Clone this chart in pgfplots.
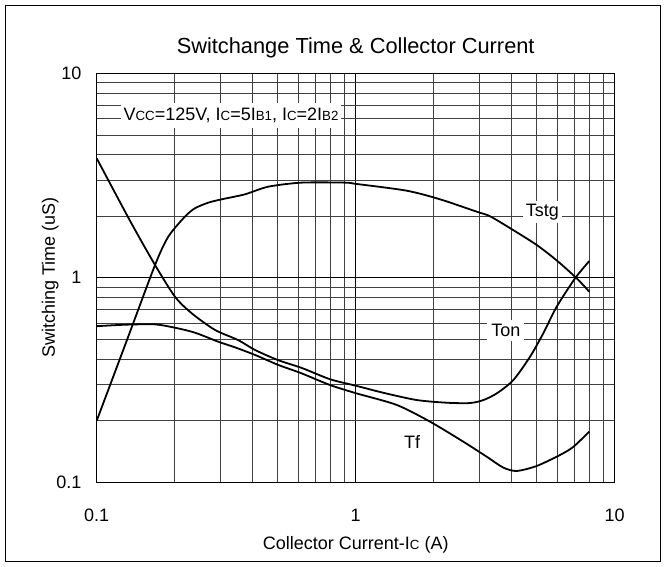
\documentclass[border=0pt]{standalone}
\usepackage{fontspec}
\setmainfont{Liberation Sans}
\usepackage{pgfplots}
\pgfplotsset{compat=1.18}
\newcommand\sm[1]{{\fontsize{13.3}{14}\selectfont #1}}
\begin{document}
\begin{tikzpicture}[x=1pt,y=1pt]
\useasboundingbox (0,0) rectangle (666,567);
\draw[line width=1.5pt] (5.5,5.5) rectangle (660.5,561.5);
\begin{axis}[
  at={(96.7pt,84.7pt)}, anchor=south west,
  scale only axis, width=518pt, height=409pt,
  xmode=log, ymode=log,
  xmin=0.1, xmax=10, ymin=0.1, ymax=10,
  xtick={0.1,1,10}, xticklabels={0.1,1,10},
  ytick={0.1,1,10}, yticklabels={0.1,1,10},
  grid=both,
  major grid style={black, line width=0.7pt},
  minor grid style={black!75, line width=0.7pt},
  major tick length=0pt, minor tick length=0pt,
  axis line style={line width=1pt},
  tick label style={font=\fontsize{18}{18}\selectfont},
  xticklabel style={anchor=base, yshift=-39.6pt},
  yticklabel style={anchor=east, inner sep=0pt, xshift=-15pt},
  title={Switchange Time \& Collector Current},
  title style={at={(axis description cs:0.5,1.0325)}, anchor=base, font=\fontsize{21.8}{22}\selectfont},
  xlabel={Collector Current-I\sm{C} (A)},
  xlabel style={at={(axis description cs:0.5,-0.165)}, anchor=base, font=\fontsize{18}{20}\selectfont},
  ylabel={Switching Time (uS)},
  ylabel style={at={(axis description cs:-0.0805,0.5)}, anchor=base, font=\fontsize{18}{20}\selectfont},
]
% Ton (starts high)
\addplot[black, line width=1.8pt, smooth, tension=0.45] coordinates {
(0.1,3.84) (0.1345,1.9) (0.168,1.155) (0.2006,0.808) (0.2326,0.671) (0.2862,0.556)
(0.3512,0.4965) (0.4087,0.4436) (0.501,0.396) (0.6205,0.362) (0.797,0.319)
(1.009,0.296) (1.278,0.274) (1.72,0.2525) (2.246,0.245) (2.75,0.244) (3.1,0.252)
(3.503,0.272) (4.06,0.316) (4.71,0.411) (5.30,0.5355) (5.97,0.722) (7.03,0.994) (7.98,1.208)};
% Tf (starts 0.58)
\addplot[black, line width=1.8pt, smooth, tension=0.45] coordinates {
(0.1,0.58) (0.13,0.59) (0.168,0.592) (0.2006,0.570) (0.2395,0.539) (0.2947,0.487)
(0.342,0.457) (0.4087,0.4195) (0.5025,0.375) (0.6185,0.341) (0.796,0.299)
(1.009,0.272) (1.44,0.239) (1.936,0.198) (2.603,0.158) (3.205,0.1334)
(3.715,0.118) (4.183,0.1136) (5.0,0.1202) (6.15,0.136) (6.92,0.149) (7.98,0.177)};
% Tstg
\addplot[black, line width=1.8pt, smooth, tension=0.45] coordinates {
(0.1,0.2) (0.13,0.485) (0.168,1.155) (0.189,1.589) (0.219,1.99) (0.2395,2.188)
(0.2696,2.33) (0.304,2.42) (0.3737,2.56) (0.46,2.79) (0.6185,2.92) (0.9093,2.92)
(1.009,2.876) (1.573,2.667) (2.117,2.42) (2.933,2.105) (3.30,2.0) (4.0,1.73)
(5.0,1.447) (6.0,1.21) (7.135,0.994) (7.98,0.855)};
\node[fill=white, inner sep=3pt, anchor=base, font=\fontsize{18}{20}\selectfont] at (axis cs:5.26,1.99) {Tstg};
\node[fill=white, inner sep=4pt, anchor=base, font=\fontsize{18}{20}\selectfont] at (axis cs:3.80,0.515) {Ton};
\node[fill=white, inner sep=2pt, anchor=base, font=\fontsize{18}{20}\selectfont] at (axis cs:1.65,0.1466) {Tf};
\node[fill=white, inner xsep=3pt, inner ysep=5pt, anchor=base west, font=\fontsize{18}{20}\selectfont] at (axis cs:0.1234,5.845) {V\sm{CC}=125V, I\sm{C}=5I\sm{B1}, I\sm{C}=2I\sm{B2}};
\end{axis}
\end{tikzpicture}
\end{document}
